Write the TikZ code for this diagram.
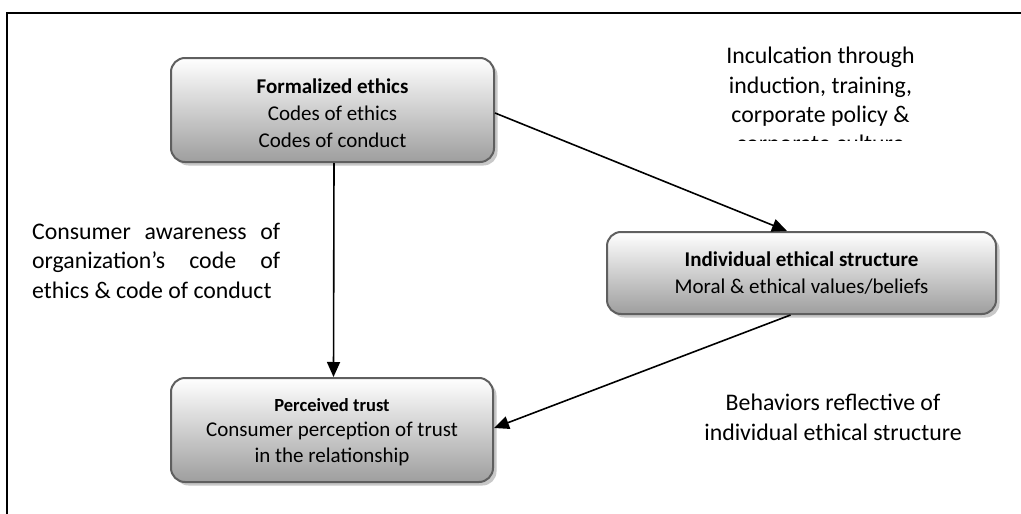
\documentclass[tikz,border=0pt]{standalone}
\usepackage{fontspec}
\setmainfont{Carlito}
\usetikzlibrary{arrows.meta,shadows}
\definecolor{boxline}{RGB}{95,95,95}
\definecolor{boxbot}{RGB}{158,158,158}
\definecolor{shadowgray}{RGB}{200,200,200}
\begin{document}
\begin{tikzpicture}[x=1pt,y=-1pt,
  box/.style={draw=boxline, line width=2pt, rounded corners=14pt, top color=white, bottom color=boxbot,
    align=center, inner sep=0pt,
    drop shadow={shadow xshift=3.5pt, shadow yshift=-3.5pt, fill=shadowgray, opacity=1}},
  boxfont/.style={font=\fontsize{21}{27}\selectfont},
  conn/.style={line width=1.6pt, -{Triangle[length=15pt,width=13pt]}},
  lbl/.style={font=\fontsize{23.8}{29.3}\selectfont, align=center, inner sep=0pt},
  frame/.style={line width=2pt}]
\useasboundingbox (0,0) rectangle (1021,514);
\draw[frame] (1021,13) -- (7,13) -- (7,514);

\node[box, boxfont, minimum width=323pt, minimum height=104pt] (F) at (332.5,110)
  {\rule{0pt}{21pt}\textbf{Formalized ethics}\\Codes of ethics\\Codes of conduct};
\node[box, boxfont, minimum width=389pt, minimum height=82pt] (I) at (801.5,273)
  {\textbf{Individual ethical structure}\\Moral \& ethical values/beliefs};
\node[box, font=\fontsize{21}{25.5}\selectfont, minimum width=322pt, minimum height=104pt] (P) at (332,430)
  {{\fontsize{18.5}{25.5}\selectfont\rule{0pt}{17pt}\textbf{Perceived trust}}\\Consumer perception of trust\\in the relationship};

\begin{scope}
  \clip (600,0) rectangle (1021,140);
  \node[lbl, anchor=north] (Linc) at (820.5,47)
    {Inculcation through\\induction, training,\\corporate policy \&\\corporate culture};
\end{scope}
\node[lbl, anchor=north west, text width=248pt, align=justify] (Laware) at (32,223)
  {Consumer awareness of organization’s code of ethics \& code of conduct};
\node[lbl, anchor=north] (Lbeh) at (833,394)
  {Behaviors reflective of\\individual ethical structure};

\draw[conn] ([yshift=-3pt]F.east) -- ([xshift=-14.5pt]I.north);
\draw[conn] ([xshift=1.5pt]F.south) -- ([xshift=1.5pt]P.north);
\draw[conn] ([xshift=-11pt]I.south) -- ([yshift=2pt]P.east);
\end{tikzpicture}
\end{document}
